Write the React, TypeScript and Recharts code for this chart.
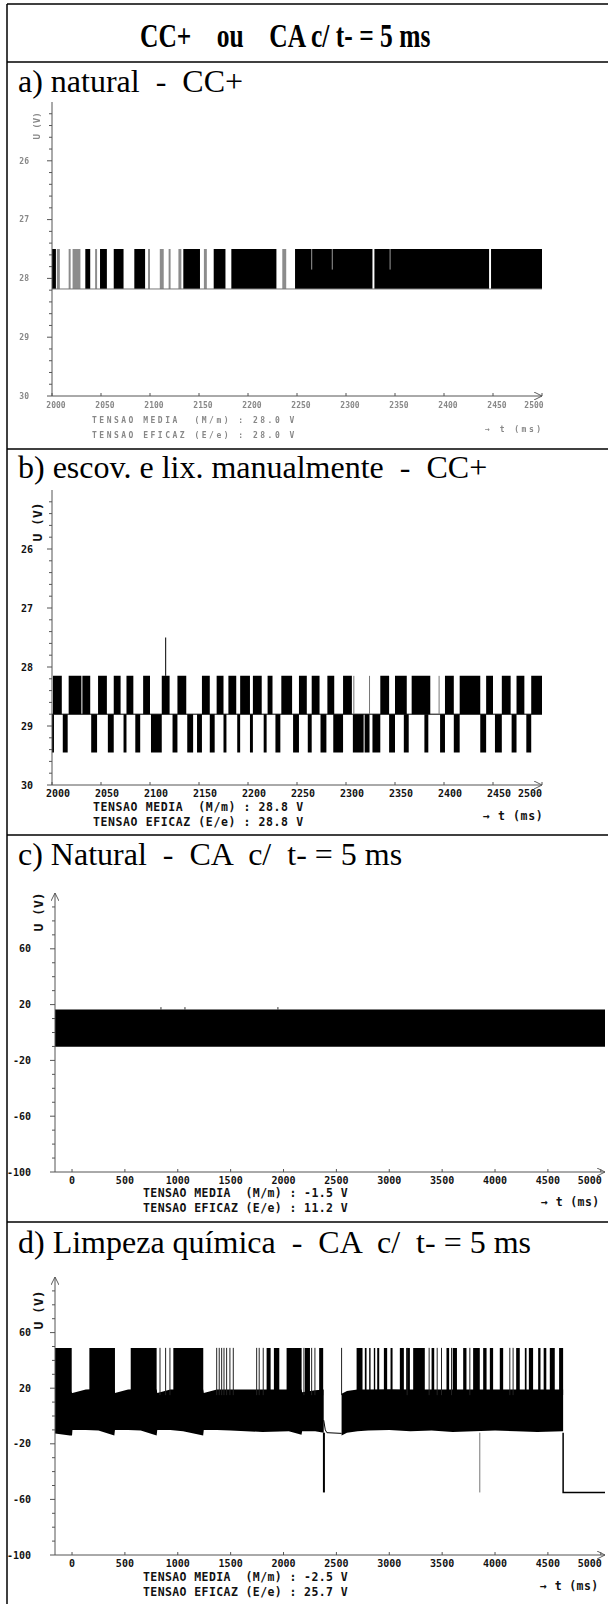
import React from "react";
import { ComposedChart, Area, Line, XAxis, YAxis } from "recharts";

// ---------- panel a : natural - CC+ (U axis inverted) ----------
const aPulseTop = 27.5;
const aPulseBase = 28.18;
const aDarkPulses: [number, number][] = [
  [2000, 2004], [2034, 2039], [2049, 2056], [2063, 2073], [2084, 2095],
  [2134, 2151], [2165, 2177], [2183, 2229], [2248, 2327], [2329, 2446],
  [2448, 2500],
];
const aGrayPulses: [number, number][] = [
  [2005, 2008], [2017, 2019], [2021, 2029], [2044, 2046], [2098, 2100],
  [2110, 2114], [2119, 2121], [2129, 2132], [2155, 2158], [2235, 2239],
];
const aLightMarks = [2265, 2286, 2345];
const aLightMarkEnd = 27.85;

// ---------- panel b : escov. e lix. manualmente - CC+ ----------
const bUpperLevel = 28.15;
const bMidLevel = 28.8;
const bLowerLevel = 29.45;
const bUpperPulses: [number, number][] = [
  [2001, 2010], [2017, 2030], [2031, 2039], [2047, 2056], [2063, 2070],
  [2076, 2083], [2093, 2100], [2112, 2120], [2128, 2137], [2153, 2161],
  [2168, 2175], [2180, 2188], [2192, 2202], [2205, 2214], [2220, 2225],
  [2234, 2245], [2252, 2260], [2265, 2273], [2281, 2288], [2297, 2306],
  [2335, 2344], [2350, 2362], [2367, 2386], [2401, 2410], [2416, 2437],
  [2443, 2450], [2459, 2468], [2474, 2482], [2489, 2500],
];
const bLowerPulses: [number, number][] = [
  [2000, 2002], [2011, 2016], [2040, 2046], [2057, 2063], [2073, 2076],
  [2085, 2090], [2101, 2112], [2123, 2128], [2138, 2144], [2148, 2153],
  [2161, 2166], [2175, 2178], [2189, 2192], [2202, 2205], [2216, 2219],
  [2228, 2233], [2246, 2252], [2261, 2265], [2274, 2280], [2287, 2297],
  [2307, 2318], [2319, 2324], [2327, 2335], [2344, 2350], [2359, 2364],
  [2380, 2384], [2396, 2401], [2410, 2416], [2437, 2443], [2452, 2459],
  [2469, 2474], [2484, 2489],
];
const bThinLines = [2308, 2324, 2395];
const bSpikeTimes = [2116];
const bSpikeTop = 27.5;

// ---------- panel c : Natural - CA c/ t- = 5 ms ----------
const cBandLow = -10.2;
const cBandHigh = 16.4;
const cBandTimes = [-161, 5040];
const cSpikeTimes = [841, 1068, 1947];
const cSpikeTop = 18.2;

// ---------- panel d : Limpeza química - CA c/ t- = 5 ms ----------
const dEnvTimes1 = [-161, -20, 0, 4, 130, 250, 400, 406, 530, 650, 800, 806, 930, 1050, 1240, 1246, 1370, 1500, 1800, 2050, 2170, 2176, 2300, 2380];
const dEnvLow1 = [-12.5, -14, -14, -10, -10, -10.5, -14, -10, -10, -10.5, -14, -10, -10, -11, -14, -10, -10, -10.5, -11.5, -11, -13.5, -11, -11, -12];
const dEnvHigh1 = [19, 19, 16.5, 16.5, 19, 19.4, 19.4, 16.5, 19, 19.2, 19, 16.5, 19, 19, 19, 16.5, 19, 19, 19, 19, 19, 17, 18.5, 19];
const dEnvTimes2 = [2549, 2600, 2700, 2800, 3000, 3200, 3400, 3600, 3800, 4000, 4200, 4400, 4644];
const dEnvLow2 = [-14, -12, -11, -10.5, -10, -11, -10.5, -11.5, -11, -10.5, -11, -11.5, -11];
const dEnvHigh2 = [16, 18, 19, 19, 19.2, 19, 19, 19, 19, 19, 19, 19, 19];
const dBurstBase = 15;
const dBurstTop = 49;
const dBursts: [number, number][] = [
  [-161, -3], [164, 406], [555, 800], [958, 1241], [1840, 1878], [1909, 1960],
  [2029, 2171], [2202, 2250], [2337, 2375], [2691, 2747], [2769, 2785],
  [2810, 2823], [2854, 2867], [2886, 2905], [2949, 2980], [3012, 3031],
  [3100, 3138], [3160, 3195], [3226, 3336], [3400, 3425], [3541, 3566],
  [3600, 3640], [3699, 3730], [3793, 3856], [3888, 3920], [3951, 3982],
  [4045, 4077], [4200, 4234], [4282, 4298], [4320, 4360], [4408, 4430],
  [4460, 4485], [4518, 4565], [4606, 4644],
];
const dBurstLines = [
  832, 885, 926, 1368, 1392, 1415, 1437, 1462, 1493, 1525, 1746, 1770, 1808,
  2193, 2266, 2297, 2549, 3169, 3377, 3453, 3494, 3589, 3762, 4140, 4171,
];
const dGapTimes = [2380, 2395, 2410, 2549];
const dGapValues = [-3, -10, -12, -12.5];
const dTailTimes = [4644, 4644, 5040];
const dTailValues = [-12, -55, -55];
const dDropBlack = [2382];
const dDropGray = [3856];
const dDropLow = -55;
const dDropHigh = -12;

// ---------- axes ----------
const abXTicks = [2000, 2050, 2100, 2150, 2200, 2250, 2300, 2350, 2400, 2450, 2500];
const abYTicks = [
  25.2, 25.4, 25.6, 25.8, 26, 26.2, 26.4, 26.6, 26.8, 27, 27.2, 27.4, 27.6,
  27.8, 28, 28.2, 28.4, 28.6, 28.8, 29, 29.2, 29.4, 29.6, 29.8, 30,
];
const abYMajors = [26, 27, 28, 29, 30];
const cdXTicks = [0, 500, 1000, 1500, 2000, 2500, 3000, 3500, 4000, 4500, 5000];
const cdYTicks = [-100, -90, -80, -70, -60, -50, -40, -30, -20, -10, 0, 10, 20, 30, 40, 50, 60, 70, 80, 90];
const cdYMajors = [-100, -60, -20, 20, 60];

const AXIS = "#555";
const MONO = "'DejaVu Sans Mono', monospace";
const SERIF = "'Liberation Serif', 'Times New Roman', serif";
const tickFont = { fontFamily: MONO, fontSize: 10, fontWeight: 700, fill: "#111" };
const tickFontA = { fontFamily: MONO, fontSize: 8, fontWeight: 700, fill: "#888" };

const blocks = (list: [number, number][], lo: number, hi: number) =>
  list.flatMap(([a, b]) => [
    { t: a, v: [lo, hi] },
    { t: b, v: [lo, hi] },
    { t: b, v: null },
  ]);
const sticks = (times: number[], lo: number, hi: number) =>
  times.flatMap((t) => [
    { t, v: lo },
    { t, v: hi },
    { t, v: null },
  ]);
const envelope = (times: number[], low: number[], high: number[]) =>
  times.map((t, i) => ({ t, v: [low[i], high[i]] }));
const trace = (times: number[], vals: number[]) => times.map((t, i) => ({ t, v: vals[i] }));

const yTick = (majors: number[], gap: number, font: any) => (p: any) => {
  const v = p.payload.value;
  const major = majors.includes(v);
  return (
    <g>
      <line x1={p.x - (major ? 5 : 3)} x2={p.x} y1={p.y} y2={p.y} stroke={AXIS} />
      {major && (
        <text x={p.x - gap} y={p.y} dy="0.35em" textAnchor="end" {...font}>
          {v}
        </text>
      )}
    </g>
  );
};
const xTick = (last: number, dx: number, dxLast: number, font: any) => (p: any) => {
  const v = p.payload.value;
  return (
    <g>
      <line x1={p.x} x2={p.x} y1={p.y} y2={p.y - 3} stroke={AXIS} />
      <text x={p.x + (v === last ? dxLast : dx)} y={p.y + 12} textAnchor="middle" {...font}>
        {v}
      </text>
    </g>
  );
};

const arrowDefs = (id: string) => (
  <defs>
    <marker id={id} viewBox="0 0 10 10" refX="10" refY="5" markerWidth="8" markerHeight="8"
      markerUnits="userSpaceOnUse" orient="auto-start-reverse">
      <path d="M0,0 L10,5 L0,10" fill="none" stroke={AXIS} strokeWidth={1.2} />
    </marker>
  </defs>
);

const area = (data: any[], fill: string) => (
  <Area data={data} dataKey="v" type="linear" stroke="none" fill={fill} fillOpacity={1}
    isAnimationActive={false} connectNulls={false} />
);
const line = (data: any[], stroke: string, w = 1) => (
  <Line data={data} dataKey="v" type="linear" stroke={stroke} strokeWidth={w} dot={false}
    activeDot={false} isAnimationActive={false} connectNulls={false} />
);

function Texts({ base, x, media, eficaz, arrowX, fill, size, spacing }: any) {
  const f = {
    fontFamily: MONO, fontSize: size, fontWeight: 700, fill, letterSpacing: spacing,
    style: { whiteSpace: "pre" as const },
  };
  return (
    <g>
      <text x={x} y={base} {...f}>{`TENSAO MEDIA  (M/m) : ${media}`}</text>
      <text x={x} y={base + 15} {...f}>{`TENSAO EFICAZ (E/e) : ${eficaz}`}</text>
      <text x={arrowX} y={base + 9} {...f}>{"→ t (ms)"}</text>
    </g>
  );
}

const uLabel = (cx: number, cy: number, fill: string, size: number) => (
  <text x={cx} y={cy} transform={`rotate(-90 ${cx} ${cy})`} textAnchor="middle" dy="0.35em"
    fontFamily={MONO} fontSize={size} fontWeight={700} fill={fill} style={{ whiteSpace: "pre" }}>
    U (V)
  </text>
);

export default function App() {
  const capt = { fontFamily: SERIF, fontSize: 32, fill: "#000", style: { whiteSpace: "pre" as const } };
  return (
    <div style={{ position: "absolute", left: 0, top: 0, width: 608, height: 1604, background: "#fff", overflow: "hidden" }}>
      <svg width={608} height={1604} style={{ position: "absolute", left: 0, top: 0 }}>
        <line x1={7} y1={4} x2={608} y2={4} stroke="#000" strokeWidth={1.5} />
        <line x1={7} y1={4} x2={7} y2={1604} stroke="#000" strokeWidth={1.5} />
        {[62, 449, 835, 1222].map((y) => (
          <line key={y} x1={7} y1={y} x2={608} y2={y} stroke="#000" strokeWidth={1.5} />
        ))}
        <text transform="translate(140 47) scale(1 1.35)" fontFamily={SERIF} fontSize={25.5}
          fontWeight={700} style={{ whiteSpace: "pre" }}>
          {"CC+    ou    CA c/ t- = 5 ms"}
        </text>
        <text x={18} y={92} {...capt}>{"a) natural  -  CC+"}</text>
        <text x={18} y={478} {...capt}>{"b) escov. e lix. manualmente  -  CC+"}</text>
        <text x={18} y={865} {...capt}>{"c) Natural  -  CA  c/  t- = 5 ms"}</text>
        <text x={18} y={1253} {...capt}>{"d) Limpeza química  -  CA  c/  t- = 5 ms"}</text>

        {uLabel(37, 522, "#111", 13)}
        <Texts base={811} x={93} media="28.8 V" eficaz="28.8 V" arrowX={483} fill="#111" size={11.5} spacing={0.6} />
        {uLabel(38, 912, "#111", 13)}
        <Texts base={1197} x={143} media="-1.5 V" eficaz="11.2 V" arrowX={541} fill="#111" size={11.5} spacing={0.4} />
        {uLabel(38, 1310, "#111", 13)}
        <Texts base={1581} x={143} media="-2.5 V" eficaz="25.7 V" arrowX={540} fill="#111" size={11.5} spacing={0.4} />
      </svg>

      {/* panel a is a blurred, low resolution copy in the original */}
      <div style={{ position: "absolute", left: 0, top: 0, filter: "blur(0.6px)" }}>
        <svg width={608} height={450} style={{ position: "absolute", left: 0, top: 0 }}>
          {uLabel(37, 126, "#888", 9)}
          <Texts base={423} x={92} media="28.0 V" eficaz="28.0 V" arrowX={485} fill="#888" size={8} spacing={2.5} />
        </svg>
        <div style={{ position: "absolute", left: 0, top: 92 }}>
          <ComposedChart width={560} height={334} margin={{ top: 10, right: 18, bottom: 0, left: 0 }}>
            {arrowDefs("arrA")}
            <XAxis dataKey="t" type="number" domain={[2000, 2500]} ticks={abXTicks} interval={0}
              allowDataOverflow height={30} tickSize={0} tickMargin={0} tickLine={false}
              axisLine={{ stroke: AXIS, markerEnd: "url(#arrA)" }}
              tick={xTick(2500, 4, -8, tickFontA)} />
            <YAxis type="number" domain={[25, 30]} reversed ticks={abYTicks} interval={0}
              allowDataOverflow width={52} tickSize={0} tickMargin={0} tickLine={false}
              axisLine={{ stroke: AXIS }} tick={yTick(abYMajors, 23, tickFontA)} />
            {area(blocks(aGrayPulses, aPulseTop, aPulseBase), "#8c8c8c")}
            {area(blocks(aDarkPulses, aPulseTop, aPulseBase), "#000")}
            {line(trace([2000, 2500], [aPulseBase, aPulseBase]), "#777")}
            {line(sticks(aLightMarks, aPulseTop, aLightMarkEnd), "#999")}
          </ComposedChart>
        </div>
      </div>

      <div style={{ position: "absolute", left: 0, top: 480 }}>
        <ComposedChart width={560} height={335} margin={{ top: 10, right: 18, bottom: 0, left: 0 }}>
          {arrowDefs("arrB")}
          <XAxis dataKey="t" type="number" domain={[2000, 2500]} ticks={abXTicks} interval={0}
            allowDataOverflow height={30} tickSize={0} tickMargin={0} tickLine={false}
            axisLine={{ stroke: AXIS, markerEnd: "url(#arrB)" }}
            tick={xTick(2500, 6, -12, tickFont)} />
          <YAxis type="number" domain={[25, 30]} reversed ticks={abYTicks} interval={0}
            allowDataOverflow width={52} tickSize={0} tickMargin={0} tickLine={false}
            axisLine={{ stroke: AXIS }} tick={yTick(abYMajors, 19, tickFont)} />
          {area(blocks(bUpperPulses, bUpperLevel, bMidLevel), "#000")}
          {area(blocks(bLowerPulses, bMidLevel, bLowerLevel), "#000")}
          {line(trace([2000, 2500], [bMidLevel, bMidLevel]), "#000")}
          {line(sticks(bThinLines, bUpperLevel, bMidLevel), "#777")}
          {line(sticks(bSpikeTimes, bSpikeTop, bUpperLevel), "#000")}
        </ComposedChart>
      </div>

      <div style={{ position: "absolute", left: 0, top: 883 }}>
        <ComposedChart width={608} height={319} margin={{ top: 10, right: 3, bottom: 0, left: 0 }}>
          {arrowDefs("arrC")}
          <XAxis dataKey="t" type="number" domain={[-161, 5040]} ticks={cdXTicks} interval={0}
            allowDataOverflow height={30} tickSize={0} tickMargin={0} tickLine={false}
            axisLine={{ stroke: AXIS, markerEnd: "url(#arrC)" }}
            tick={xTick(5000, 0, -11, tickFont)} />
          <YAxis type="number" domain={[-100, 100]} ticks={cdYTicks} interval={0}
            allowDataOverflow width={55} tickSize={0} tickMargin={0} tickLine={false}
            axisLine={{ stroke: AXIS, markerStart: "url(#arrC)" }} tick={yTick(cdYMajors, 24, tickFont)} />
          {area(cBandTimes.map((t) => ({ t, v: [cBandLow, cBandHigh] })), "#000")}
          {line(sticks(cSpikeTimes, cBandHigh, cSpikeTop), "#333")}
        </ComposedChart>
      </div>

      <div style={{ position: "absolute", left: 0, top: 1267 }}>
        <ComposedChart width={608} height={318} margin={{ top: 10, right: 3, bottom: 0, left: 0 }}>
          {arrowDefs("arrD")}
          <XAxis dataKey="t" type="number" domain={[-161, 5040]} ticks={cdXTicks} interval={0}
            allowDataOverflow height={30} tickSize={0} tickMargin={0} tickLine={false}
            axisLine={{ stroke: AXIS, markerEnd: "url(#arrD)" }}
            tick={xTick(5000, 0, -11, tickFont)} />
          <YAxis type="number" domain={[-100, 100]} ticks={cdYTicks} interval={0}
            allowDataOverflow width={55} tickSize={0} tickMargin={0} tickLine={false}
            axisLine={{ stroke: AXIS, markerStart: "url(#arrD)" }} tick={yTick(cdYMajors, 24, tickFont)} />
          {area(
            [
              ...envelope(dEnvTimes1, dEnvLow1, dEnvHigh1),
              { t: 2380, v: null },
              ...envelope(dEnvTimes2, dEnvLow2, dEnvHigh2),
            ],
            "#000"
          )}
          {area(blocks(dBursts, dBurstBase, dBurstTop), "#000")}
          {line(sticks(dBurstLines, dBurstBase, dBurstTop), "#222")}
          {line(trace(dGapTimes, dGapValues), "#000")}
          {line(trace(dTailTimes, dTailValues), "#000", 1.5)}
          {line(sticks(dDropBlack, dDropHigh, dDropLow), "#000", 2)}
          {line(sticks(dDropGray, dDropHigh, dDropLow), "#777")}
        </ComposedChart>
      </div>
    </div>
  );
}
